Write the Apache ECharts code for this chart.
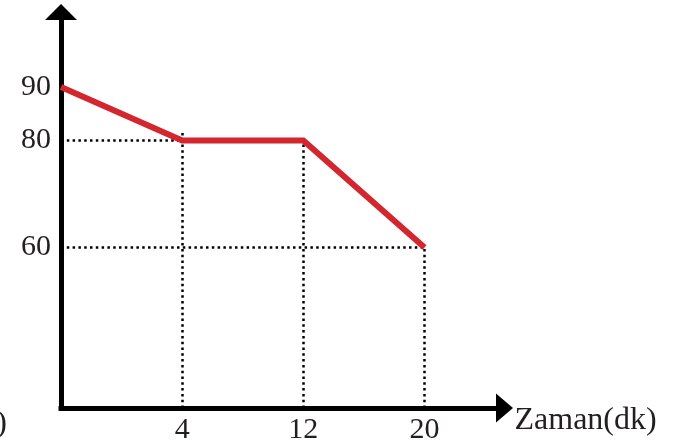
<!DOCTYPE html>
<html><head><meta charset="utf-8">
<script src="https://cdn.jsdelivr.net/npm/echarts@6/dist/echarts.min.js"></script>
<style>html,body{margin:0;padding:0;background:#fff}#c{width:687px;height:445px}</style>
</head><body><div id="c"></div>
<script>
// ---- data ----
const timeLabels = ['0', '4', '12', '20'];      // x categories (minutes)
const temps = [90, 80, 80, 60];                  // series values
const yTickLabels = [60, 80, 90];                // shown y tick labels
const xAxisName = 'Zaman(dk)';
const cutLabel = ')';
const hGuideIdx = [1, 3];                        // points with horizontal dotted guide
const vGuideIdx = [1, 2, 3];                     // points with vertical dotted guide
const vGuideTop = [82, 80, 60];                  // top value of each vertical guide

const yMin = 30, yMax = 104;
const serif = '"Liberation Serif", "DejaVu Serif", serif';
const ink = '#231f20';

const points = temps.map((t, i) => [i, t]);
const guides = [];
hGuideIdx.forEach(i => guides.push([{ coord: [0, temps[i]] }, { coord: [i, temps[i]] }]));
vGuideIdx.forEach((i, k) => guides.push([{ coord: [i, yMin] }, { coord: [i, vGuideTop[k]] }]));

const chart = echarts.init(document.getElementById('c'));
chart.setOption({
  animation: false,
  grid: { left: 61, right: 182.5, top: 12, bottom: 37, containLabel: false },
  xAxis: {
    type: 'value', min: 0, max: 3.66, interval: 1,
    name: xAxisName, nameLocation: 'end', nameGap: 10,
    nameTextStyle: { fontFamily: serif, fontSize: 32, color: ink, verticalAlign: 'top', padding: [-3, 0, 0, 0] },
    axisLine: { show: true, symbol: ['none', 'triangle'], symbolSize: [29, 17],
      lineStyle: { color: '#000', width: 5, cap: 'square' } },
    axisTick: { show: false }, splitLine: { show: false },
    axisLabel: { fontFamily: serif, fontSize: 30, color: ink, margin: 7, showMaxLabel: false,
      formatter: v => (Number.isInteger(v) && v > 0 && v < timeLabels.length) ? timeLabels[v] : '' }
  },
  yAxis: {
    type: 'value', min: yMin, max: yMax, interval: 10,
    axisLine: { show: true, onZero: false, symbol: ['none', 'triangle'], symbolSize: [32, 16],
      lineStyle: { color: '#000', width: 5, cap: 'square' } },
    axisTick: { show: false }, splitLine: { show: false },
    axisLabel: { fontFamily: serif, fontSize: 30, color: ink, margin: 10, showMaxLabel: false,
      formatter: v => yTickLabels.includes(v) ? String(v) : '' }
  },
  graphic: [{ type: 'text', x: 7, y: 424,
    style: { text: cutLabel, fontFamily: serif, fontSize: 32, fill: ink, align: 'right', verticalAlign: 'middle' } }],
  series: [{
    type: 'line', data: points, showSymbol: false, z: 3,
    lineStyle: { color: '#d3262e', width: 6, join: 'miter' },
    markLine: {
      silent: true, symbol: ['none', 'none'], label: { show: false }, z: 1,
      lineStyle: { color: '#000', width: 2.5, type: [2.5, 3.3] },
      data: guides
    }
  }]
});
</script></body></html>
